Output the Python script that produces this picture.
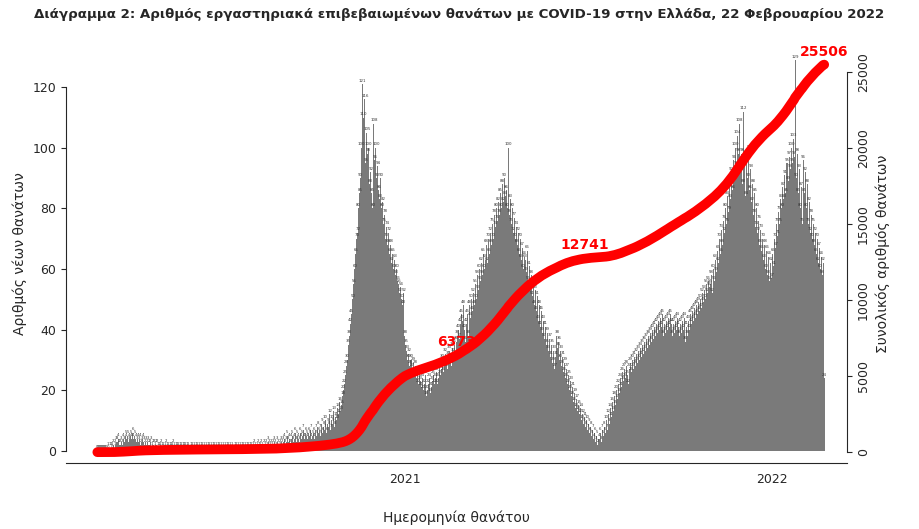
import numpy as np, pandas as pd, matplotlib
matplotlib.use("Agg")
import matplotlib.pyplot as plt, seaborn as sns

m = {}
m["2020-03"]=[0,0,0,0,0,0,0,0,0,0,1,0,1,1,1,0,2,1,2,3,3,4,2,2,3,2,4,3,5,4,5]
m["2020-04"]=[3,4,5,4,6,4,5,4,3,4,3,4,2,3,4,3,2,3,2,3,2,2,3,1,2,2,1,2,2,1]
m["2020-05"]=[1,1,2,1,1,0,1,2,1,1,0,1,1,1,2,1,0,1,1,1,0,1,1,0,1,1,1,0,1,1,0]
m["2020-06"]=[0,1,1,0,1,0,1,1,0,1,0,1,1,0,1,0,1,0,1,1,0,1,0,1,1,0,1,0,1,1]
m["2020-07"]=[0,1,0,1,0,1,0,1,1,0,1,0,1,0,0,1,1,0,1,0,1,0,1,1,0,1,0,1,1,0,1]
m["2020-08"]=[1,0,1,2,1,0,1,2,1,1,2,1,0,2,1,2,1,3,2,1,2,1,2,3,2,1,3,2,1,2,3]
m["2020-09"]=[2,3,4,2,3,5,3,4,2,4,5,3,4,6,3,5,4,3,6,4,5,7,4,6,5,4,6,5,7,4]
m["2020-10"]=[5,6,4,7,5,8,6,7,5,9,6,8,7,10,6,9,8,12,7,10,9,13,8,11,10,14,12,16,13,15,18]
m["2020-11"]=[20,22,25,28,30,35,38,42,45,50,55,60,65,70,72,80,85,90,100,121,110,116,95,105,98,100,88,92,85,80]
m["2020-12"]=[108,96,100,90,94,86,83,90,80,82,75,78,70,74,68,72,65,68,62,65,60,63,58,60,56,55,52,54,50,48,52]
m["2021-01"]=[38,35,33,30,32,28,30,27,29,25,28,24,26,22,25,23,21,24,20,22,25,18,20,22,24,19,21,23,25,22,24]
m["2021-02"]=[26,22,24,28,25,27,30,26,28,32,29,27,31,33,30,28,34,32,35,30,36,38,40,37,42,45,43,48]
m["2021-03"]=[40,36,42,45,38,48,44,50,46,52,48,55,50,58,53,60,56,62,58,65,60,63,68,62,70,65,72,68,75,70,78]
m["2021-04"]=[74,80,76,82,78,85,80,88,82,90,84,86,80,100,78,83,75,80,72,77,70,74,68,72,65,70,63,67,60,64]
m["2021-05"]=[63,59,66,56,61,53,58,51,55,48,53,46,51,43,48,41,46,39,43,37,41,35,39,33,37,31,35,29,33,27,31]
m["2021-06"]=[38,34,36,30,33,28,31,26,29,24,27,22,25,20,23,18,21,16,19,14,17,13,15,12,14,10,12,9,11,8]
m["2021-07"]=[10,7,9,6,8,5,7,4,6,3,5,2,4,6,3,7,5,8,6,10,7,12,9,14,11,16,13,18,15,20,17]
m["2021-08"]=[22,19,24,21,26,23,27,24,28,25,22,27,29,26,30,27,31,28,32,29,33,30,34,31,35,32,36,33,37,34,38]
m["2021-09"]=[35,39,36,40,37,41,38,42,39,43,40,44,41,45,38,42,39,43,40,44,41,45,42,38,42,39,43,40,44,41]
m["2021-10"]=[38,42,39,43,40,44,36,41,38,43,40,45,42,46,43,47,44,48,45,49,46,50,47,52,49,53,50,55,52,56,54]
m["2021-11"]=[55,58,52,60,56,63,59,66,62,70,65,73,68,76,72,80,75,84,79,88,83,92,86,96,90,100,94,104,98,108]
m["2021-12"]=[92,98,88,112,94,84,96,90,99,86,93,82,88,78,85,74,80,72,76,68,73,66,70,63,68,60,66,58,64,56,62]
m["2022-01"]=[57,65,61,70,67,75,71,79,75,83,80,87,83,91,85,95,89,97,93,100,95,103,97,129,90,98,85,93,80,87,75]
m["2022-02"]=[96,85,92,80,88,75,82,72,78,70,75,68,72,65,70,62,67,60,64,58,62,24]

daily = sum(m.values(), [])
dates = pd.date_range("2020-03-01", periods=len(daily), freq="D")
df = pd.DataFrame({"date": dates, "deaths": daily})
df["cum"] = df["deaths"].cumsum()
label_dates = ["2021-02-21", "2021-06-29", str(dates[-1].date())]

sns.set_style("white")
fig = plt.figure(figsize=(9.19, 5.29), dpi=100)
ax = fig.add_axes([0.072, 0.125, 0.85, 0.79])
ax.bar(df["date"], df["deaths"], width=1.0, color="#7a7a7a", linewidth=0)
for d, v in zip(df["date"], df["deaths"]):
    ax.text(d, v + 0.5, str(v), fontsize=2.8, ha="center", va="bottom", color="#333333")
ax.set_ylim(-4, 134)
ax.set_xlim(pd.Timestamp("2020-01-30"), pd.Timestamp("2022-03-17"))
ax.set_yticks([0, 20, 40, 60, 80, 100, 120])
ax.set_xticks(pd.to_datetime(["2021-01-01", "2022-01-01"]))
ax.set_xticklabels(["2021", "2022"])
ax.tick_params(labelsize=9)
ax.set_ylabel("Αριθμός νέων θανάτων", fontsize=10)
ax.set_xlabel("Ημερομηνία θανάτου", fontsize=10, labelpad=18)
for s in ["top", "right"]:
    ax.spines[s].set_visible(False)
ax.spines["left"].set_bounds(0, 120)

ax2 = ax.twinx()
sns.lineplot(data=df, x="date", y="cum", ax=ax2, color="red", linewidth=7, solid_capstyle="round")
ax2.set_ylim(-4 * 25485 / 120 * 0.83, 26800)
ax2.set_yticks([0, 5000, 10000, 15000, 20000, 25000])
ax2.tick_params(axis="y", labelrotation=90, labelsize=9)
for lab in ax2.get_yticklabels():
    lab.set_va("center")
ax2.set_ylabel("Συνολικός αριθμός θανάτων", fontsize=10)
ax2.set_xlabel("")
for s in ["top", "left", "bottom"]:
    ax2.spines[s].set_visible(False)
ax2.spines["right"].set_bounds(0, 25000)
for ld in label_dates:
    r = df[df["date"] == pd.Timestamp(ld)].iloc[0]
    ax2.text(r["date"], r["cum"] + 400, f"{r['cum']}", color="red", fontsize=10,
             fontweight="bold", ha="center", va="bottom")

fig.suptitle("Διάγραμμα 2: Αριθμός εργαστηριακά επιβεβαιωμένων θανάτων με COVID-19 στην Ελλάδα, 22 Φεβρουαρίου 2022",
             fontsize=9.6, fontweight="bold", y=0.985)
fig.savefig("out.png", dpi=100)
